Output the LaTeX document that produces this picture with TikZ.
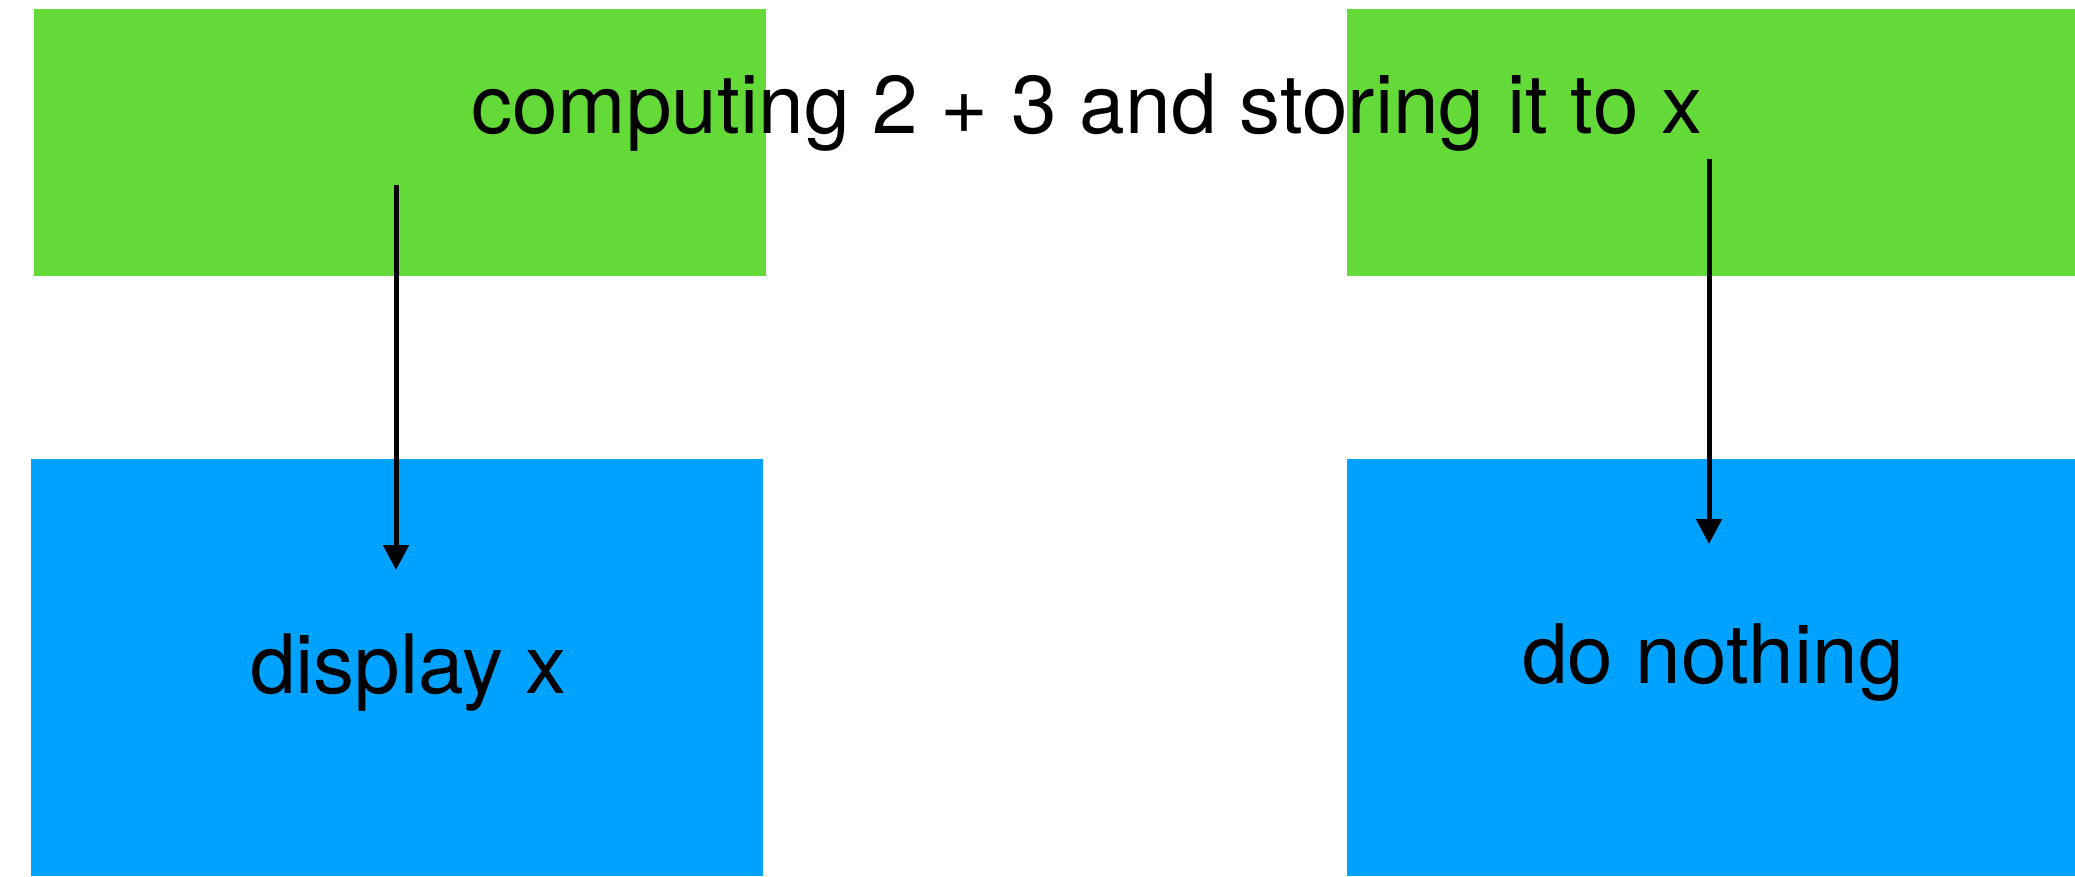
\documentclass[tikz,border=0pt]{standalone}
\usepackage{fontspec}
\setmainfont{TeX Gyre Heros}
\usetikzlibrary{arrows.meta}

\definecolor{stepgreen}{RGB}{99,218,56}
\definecolor{stepblue}{RGB}{0,162,255}

\tikzset{
  block/.style={draw=none, inner sep=0pt, outer sep=0pt, anchor=north west},
  words/.style={inner sep=0pt, outer sep=0pt, anchor=base west, font=\fontsize{82}{98}\selectfont},
  flow/.style={line width=5pt, -{Triangle[length=25pt, width=25pt]}}
}

\begin{document}
\begin{tikzpicture}[x=1pt, y=-1pt]
  % Parameters
  \def\boxheightTop{267} % Height of the green boxes
  \def\boxheightBot{417} % Height of the blue boxes

  \useasboundingbox (0,0) rectangle (2075,876);

  % Green boxes (top row)
  \node[block, fill=stepgreen, minimum width=732pt, minimum height=\boxheightTop pt] (compute) at (34,9) {};
  \node[block, fill=stepgreen, minimum width=728pt, minimum height=\boxheightTop pt] (computeRight) at (1347,9) {};

  % Blue boxes (bottom row)
  \node[block, fill=stepblue, minimum width=732pt, minimum height=\boxheightBot pt] (display) at (31,459) {};
  \node[block, fill=stepblue, minimum width=728pt, minimum height=\boxheightBot pt] (nothing) at (1347,459) {};

  % Texts
  \node[words] (computeText) at (471,133) {computing 2 + 3 and storing it to x};
  \node[words] (displayText) at (250,693) {display x};
  \node[words] (nothingText) at (1522,683) {do nothing};

  % Arrows from the top row down to the bottom row
  \coordinate (leftFrom) at (396,185);
  \coordinate (leftTo) at (396,570);
  \coordinate (rightFrom) at (1709,159);
  \coordinate (rightTo) at (1709,544);
  \draw[flow] (leftFrom) -- (leftTo);
  \draw[flow] (rightFrom) -- (rightTo);
\end{tikzpicture}
\end{document}
